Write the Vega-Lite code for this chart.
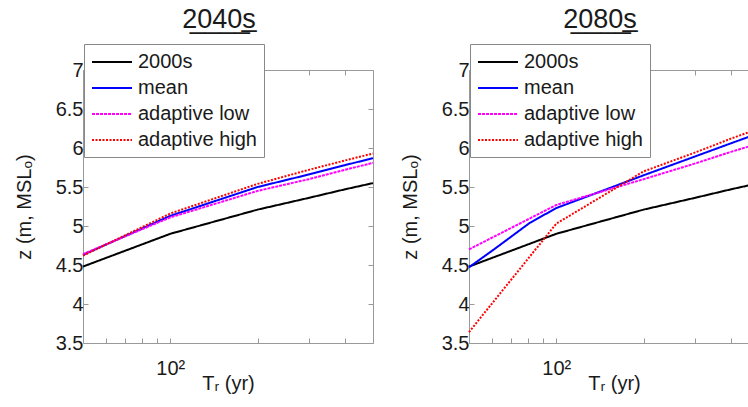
{
  "$schema": "https://vega.github.io/schema/vega-lite/v6.json",
  "background": "white",
  "padding": {"left": 13, "top": 5, "right": 0, "bottom": 0},
  "datasets": {
    "pts": [
      {"panel": "2040s", "series": "2000s", "T": 50, "z": 4.48},
      {"panel": "2040s", "series": "2000s", "T": 100, "z": 4.9},
      {"panel": "2040s", "series": "2000s", "T": 200, "z": 5.21},
      {"panel": "2040s", "series": "2000s", "T": 300, "z": 5.36},
      {"panel": "2040s", "series": "2000s", "T": 400, "z": 5.47},
      {"panel": "2040s", "series": "2000s", "T": 500, "z": 5.55},
      {"panel": "2040s", "series": "mean", "T": 50, "z": 4.63},
      {"panel": "2040s", "series": "mean", "T": 100, "z": 5.13},
      {"panel": "2040s", "series": "mean", "T": 200, "z": 5.5},
      {"panel": "2040s", "series": "mean", "T": 300, "z": 5.66},
      {"panel": "2040s", "series": "mean", "T": 400, "z": 5.78},
      {"panel": "2040s", "series": "mean", "T": 500, "z": 5.87},
      {"panel": "2040s", "series": "adaptive low", "T": 50, "z": 4.64},
      {"panel": "2040s", "series": "adaptive low", "T": 100, "z": 5.11},
      {"panel": "2040s", "series": "adaptive low", "T": 200, "z": 5.45},
      {"panel": "2040s", "series": "adaptive low", "T": 300, "z": 5.6},
      {"panel": "2040s", "series": "adaptive low", "T": 400, "z": 5.72},
      {"panel": "2040s", "series": "adaptive low", "T": 500, "z": 5.81},
      {"panel": "2040s", "series": "adaptive high", "T": 50, "z": 4.62},
      {"panel": "2040s", "series": "adaptive high", "T": 100, "z": 5.16},
      {"panel": "2040s", "series": "adaptive high", "T": 200, "z": 5.54},
      {"panel": "2040s", "series": "adaptive high", "T": 300, "z": 5.72},
      {"panel": "2040s", "series": "adaptive high", "T": 400, "z": 5.84},
      {"panel": "2040s", "series": "adaptive high", "T": 500, "z": 5.93},
      {"panel": "2080s", "series": "2000s", "T": 50, "z": 4.48},
      {"panel": "2080s", "series": "2000s", "T": 100, "z": 4.9},
      {"panel": "2080s", "series": "2000s", "T": 200, "z": 5.21},
      {"panel": "2080s", "series": "2000s", "T": 300, "z": 5.36},
      {"panel": "2080s", "series": "2000s", "T": 400, "z": 5.47},
      {"panel": "2080s", "series": "2000s", "T": 500, "z": 5.55},
      {"panel": "2080s", "series": "mean", "T": 50, "z": 4.47},
      {"panel": "2080s", "series": "mean", "T": 62, "z": 4.72},
      {"panel": "2080s", "series": "mean", "T": 81, "z": 5.04},
      {"panel": "2080s", "series": "mean", "T": 100, "z": 5.23},
      {"panel": "2080s", "series": "mean", "T": 200, "z": 5.65},
      {"panel": "2080s", "series": "mean", "T": 300, "z": 5.89},
      {"panel": "2080s", "series": "mean", "T": 400, "z": 6.06},
      {"panel": "2080s", "series": "mean", "T": 500, "z": 6.19},
      {"panel": "2080s", "series": "adaptive low", "T": 50, "z": 4.7},
      {"panel": "2080s", "series": "adaptive low", "T": 100, "z": 5.27},
      {"panel": "2080s", "series": "adaptive low", "T": 200, "z": 5.6},
      {"panel": "2080s", "series": "adaptive low", "T": 300, "z": 5.8},
      {"panel": "2080s", "series": "adaptive low", "T": 400, "z": 5.95},
      {"panel": "2080s", "series": "adaptive low", "T": 500, "z": 6.06},
      {"panel": "2080s", "series": "adaptive high", "T": 50, "z": 3.64},
      {"panel": "2080s", "series": "adaptive high", "T": 100, "z": 5.03},
      {"panel": "2080s", "series": "adaptive high", "T": 200, "z": 5.7},
      {"panel": "2080s", "series": "adaptive high", "T": 300, "z": 5.94},
      {"panel": "2080s", "series": "adaptive high", "T": 400, "z": 6.12},
      {"panel": "2080s", "series": "adaptive high", "T": 500, "z": 6.25}
    ]
  },
  "data": {"name": "pts"},
  "spacing": 21,
  "resolve": {"legend": {"color": "independent", "strokeDash": "independent"}},
  "hconcat": [
    {
      "width": 290, "height": 273,
      "title": {"text": "2̲0̲4̲0̲s̲", "dx": -9},
      "transform": [{"filter": "datum.panel === '2040s'"}],
      "layer": [
        {
          "mark": {"type": "line", "strokeWidth": 2},
          "encoding": {
            "x": {"field": "T", "type": "quantitative", "scale": {"type": "log", "domain": [50, 500], "nice": false},
                  "axis": {"orient": "bottom", "values": [60, 70, 80, 90, 100, 200, 300, 400], "labelExpr": "datum.value == 100 ? '10²' : ''", "tickSize": -5, "labelPadding": 20, "title": "Tᵣ (yr)", "titlePadding": -5}},
            "y": {"field": "z", "type": "quantitative", "scale": {"domain": [3.5, 7], "nice": false, "zero": false},
                  "axis": {"orient": "left", "values": [3.5, 4, 4.5, 5, 5.5, 6, 6.5, 7], "format": "~g", "tickSize": -5, "labelPadding": 5, "title": "z (m, MSLₒ)", "titlePadding": 21}},
            "color": {"field": "series", "type": "nominal", "scale": {"domain": ["2000s", "mean", "adaptive low", "adaptive high"], "range": ["#000000", "#0000ff", "#ff00ff", "#ff0000"]}, "legend": {"title": null, "orient": "none", "legendX": 1, "legendY": -26}},
            "strokeDash": {"field": "series", "type": "nominal", "scale": {"domain": ["2000s", "mean", "adaptive low", "adaptive high"], "range": [[1, 0], [1, 0], [3, 1], [2, 1.5]]}, "legend": {"title": null, "orient": "none", "legendX": 1, "legendY": -26}}
          }
        },
        {
          "mark": {"type": "line", "opacity": 0},
          "encoding": {
            "x": {"field": "T", "type": "quantitative", "axis": {"orient": "top", "values": [60, 70, 80, 90, 100, 200, 300, 400], "labels": false, "tickSize": -5, "title": null}},
            "y": {"field": "z", "type": "quantitative", "axis": {"orient": "right", "values": [3.5, 4, 4.5, 5, 5.5, 6, 6.5, 7], "labels": false, "tickSize": -5, "title": null}},
            "detail": {"field": "series"}
          }
        }
      ]
    },
    {
      "width": 290, "height": 273,
      "title": {"text": "2̲0̲8̲0̲s̲", "dx": -14},
      "transform": [{"filter": "datum.panel === '2080s'"}],
      "layer": [
        {
          "mark": {"type": "line", "strokeWidth": 2},
          "encoding": {
            "x": {"field": "T", "type": "quantitative", "scale": {"type": "log", "domain": [50, 500], "nice": false},
                  "axis": {"orient": "bottom", "values": [60, 70, 80, 90, 100, 200, 300, 400], "labelExpr": "datum.value == 100 ? '10²' : ''", "tickSize": -5, "labelPadding": 20, "title": "Tᵣ (yr)", "titlePadding": -5}},
            "y": {"field": "z", "type": "quantitative", "scale": {"domain": [3.5, 7], "nice": false, "zero": false},
                  "axis": {"orient": "left", "values": [3.5, 4, 4.5, 5, 5.5, 6, 6.5, 7], "format": "~g", "tickSize": -5, "labelPadding": 5, "title": "z (m, MSLₒ)", "titlePadding": 21}},
            "color": {"field": "series", "type": "nominal", "scale": {"domain": ["2000s", "mean", "adaptive low", "adaptive high"], "range": ["#000000", "#0000ff", "#ff00ff", "#ff0000"]}, "legend": {"title": null, "orient": "none", "legendX": 1, "legendY": -26}},
            "strokeDash": {"field": "series", "type": "nominal", "scale": {"domain": ["2000s", "mean", "adaptive low", "adaptive high"], "range": [[1, 0], [1, 0], [3, 1], [2, 1.5]]}, "legend": {"title": null, "orient": "none", "legendX": 1, "legendY": -26}}
          }
        },
        {
          "mark": {"type": "line", "opacity": 0},
          "encoding": {
            "x": {"field": "T", "type": "quantitative", "axis": {"orient": "top", "values": [60, 70, 80, 90, 100, 200, 300, 400], "labels": false, "tickSize": -5, "title": null}},
            "y": {"field": "z", "type": "quantitative", "axis": {"orient": "right", "values": [3.5, 4, 4.5, 5, 5.5, 6, 6.5, 7], "labels": false, "tickSize": -5, "title": null}},
            "detail": {"field": "series"}
          }
        }
      ]
    }
  ],
  "config": {
    "font": "Liberation Sans",
    "view": {"stroke": "#999999"},
    "axis": {"grid": false, "domain": false, "tickColor": "#999999", "labelFont": "Liberation Sans", "titleFont": "Liberation Sans", "labelFontSize": 20, "titleFontSize": 20, "labelColor": "#1a1a1a", "titleColor": "#1a1a1a", "titleFontWeight": "normal"},
    "legend": {"strokeColor": "#888888", "fillColor": "white", "padding": 7, "labelFont": "Liberation Sans", "labelFontSize": 20, "labelColor": "#1a1a1a", "symbolType": "M-1,0H3", "symbolSize": 400, "symbolStrokeWidth": 2, "rowPadding": 5, "labelOffset": 25, "labelLimit": 300},
    "title": {"font": "Liberation Sans", "fontSize": 27, "fontWeight": "normal", "color": "#1a1a1a", "anchor": "middle", "offset": 10}
  }
}
